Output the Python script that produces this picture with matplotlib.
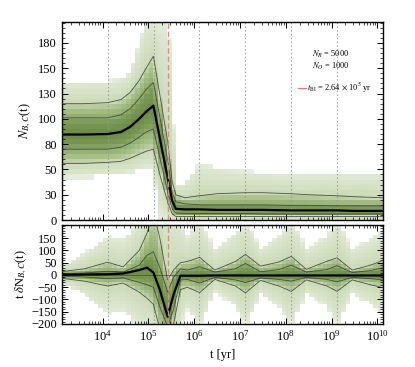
import numpy as np
import matplotlib
matplotlib.use("Agg")
import matplotlib.pyplot as plt
from matplotlib.colors import LinearSegmentedColormap
from matplotlib.ticker import FixedLocator, FixedFormatter, MultipleLocator, LogLocator, NullFormatter

plt.rcParams['font.family'] = ['Liberation Serif', 'DejaVu Serif']
plt.rcParams['mathtext.fontset'] = 'stix'

# ---- data ----
T_BI = 2.64e5
T_MARKS = [1.3e4, 1.3e5, 1.3e6, 1.3e7, 1.3e8, 1.3e9]
N_R, N_O = 5000, 1000

# upper panel: N_{B,C}(t) quantiles vs log10 t
logt_up = [3.11, 3.6, 4.11, 4.4, 4.6, 4.8, 4.95, 5.11, 5.25, 5.42, 5.52, 5.6,
           5.8, 6.11, 6.5, 7.11, 7.5, 8.11, 8.5, 9.11, 9.5, 10.13]
lo_up = [42, 42, 43, 44, 46, 48, 50, 50, 0, 0, 0, 0,
         0, 0, 0, 0, 0, 0, 0, 0, 0, 0]
q02_up = [56, 56, 57, 58, 61, 65, 68, 70, 45, 18, 6, 3.5,
          3.5, 3.5, 3.5, 3.5, 3.5, 3.5, 3.5, 3.5, 3.5, 3.5]
q16_up = [70, 70, 70, 72, 76, 82, 87, 90, 62, 28, 11, 7,
          6.5, 6.5, 6.5, 6.5, 6, 6, 6, 6, 6, 6]
med_up = [84.5, 84.5, 85, 87, 92, 100, 107, 113, 81, 42, 19, 11,
          10.5, 10.5, 10, 10, 10, 9.5, 9.5, 9.5, 9, 9]
q84_up = [101, 101, 101, 104, 110, 120, 129, 136, 102, 60, 27, 18,
          16, 15, 15, 15, 15, 14.5, 14.5, 14, 14, 14]
q98_up = [115, 115, 116, 119, 126, 138, 150, 162, 124, 78, 38, 25,
          22, 24, 26, 27, 27, 26, 25, 24, 23, 22]
hi_up = [137, 137, 137, 140, 146, 175, 200, 200, 200, 200, 150, 36,
         36, 56, 52, 48, 47, 46, 46, 46, 46, 46]

# lower panel: t dN_{B,C}/dt quantiles vs log10 t
logt_lo = [3.11, 3.6, 4.11, 4.45, 4.8, 4.97, 5.11, 5.25, 5.42, 5.55, 5.7, 5.85,
           6.12, 6.45, 6.9, 7.12, 7.45, 7.85, 8.12, 8.45, 8.9, 9.12, 9.45, 9.85, 10.13]
lo_lo = [-35, -80, -160, -150, -220, -240, -260, -300, -320, -300, -220, -140,
         -210, -70, -130, -210, -80, -130, -210, -80, -130, -210, -80, -120, -170]
q02_lo = [-14, -25, -45, -33, -70, -95, -120, -220, -260, -200, -60, -50,
          -72, -18, -45, -73, -22, -45, -67, -20, -45, -67, -20, -40, -52]
q16_lo = [-5, -8, -15, -12, -30, -40, -50, -130, -210, -140, -20, -18,
          -33, -10, -20, -31, -12, -18, -25, -10, -18, -28, -10, -15, -20]
med_lo = [1, 2, 3, 6, 20, 30, 10, -60, -170, -80, -3, -3,
          -3, -2, -2, -2, -2, -2, -2, -2, -2, -2, -2, -2, -2]
q84_lo = [5, 8, 15, 12, 40, 80, 95, 30, -70, -10, 25, 20,
          34, 12, 25, 47, 13, 22, 40, 12, 22, 38, 10, 18, 30]
q98_lo = [14, 25, 52, 33, 100, 170, 260, 150, -20, 20, 50, 55,
          72, 20, 55, 84, 36, 53, 76, 23, 56, 70, 20, 40, 60]
hi_lo = [35, 90, 160, 150, 220, 240, 300, 320, 300, 280, 220, 160,
         230, 110, 170, 230, 110, 160, 230, 110, 160, 230, 110, 150, 190]

# y ticks of the upper panel (labels are rounded in the original)
up_tick_pos = [0, 25, 50, 75, 100, 125, 150, 175]
up_tick_lab = ['0', '30', '50', '80', '100', '130', '150', '180']
lo_tick_pos = [-200, -150, -100, -50, 0, 50, 100, 150]

LEVELS = [0, 0.025, 0.16, 0.5, 0.84, 0.975, 1.0]
cmap = LinearSegmentedColormap.from_list(
    'grn', ['#edf2e6', '#d3e0c2', '#a6bf86', '#7d9c58', '#6a8a45'])


def density_mesh(ax, logt, curves, y_edges, dx=0.1):
    """Shade each time column by how central a cell is in the distribution
    spanned by the read-off quantile curves (two-sided tail probability)."""
    x_edges = np.arange(3.11, 10.14 + dx, dx)
    xc = 0.5 * (x_edges[:-1] + x_edges[1:])
    yc = 0.5 * (y_edges[:-1] + y_edges[1:])
    img = np.full((len(yc), len(xc)), np.nan)
    for j, c in enumerate(xc):
        q = np.array([np.interp(c, logt, cv) for cv in curves])
        q = np.maximum.accumulate(q + np.arange(len(q)) * 1e-6)
        cdf = np.interp(yc, q, LEVELS)
        tail = 1 - np.abs(2 * cdf - 1)
        inside = (yc >= q[0]) & (yc <= q[-1])
        img[:, j] = np.where(inside, tail ** 0.4, np.nan)
    ax.pcolormesh(10 ** x_edges, y_edges, np.ma.masked_invalid(img), cmap=cmap,
                  vmin=0, vmax=1, shading='flat', zorder=1)


def draw_lines(ax, logt, q02, q16, med, q84, q98):
    t = 10 ** np.array(logt)
    for q in (q02, q16, q84, q98):
        ax.plot(t, q, color='#3a3a3a', lw=0.6, alpha=0.85, zorder=3)
    ax.plot(t, med, color='k', lw=1.6, zorder=4)


def style_axis(ax):
    ax.set_xscale('log')
    ax.set_xlim(1.3e3, 1.33e10)
    ax.xaxis.set_major_locator(LogLocator(base=10, numticks=20))
    ax.xaxis.set_minor_locator(LogLocator(base=10, subs=np.arange(2, 10), numticks=100))
    ax.xaxis.set_minor_formatter(NullFormatter())
    ax.tick_params(which='both', direction='in', top=True, right=True, labelsize=9)
    ax.tick_params(which='major', length=4, width=0.7)
    ax.tick_params(which='minor', length=2, width=0.5)
    for s in ax.spines.values():
        s.set_linewidth(1.0)
    for tm in T_MARKS:
        ax.axvline(tm, color='#999999', ls=(0, (1.2, 2.2)), lw=0.8, zorder=2)
    ax.axvline(T_BI, color='#e88a78', ls=(0, (4, 2)), lw=1.0, zorder=5)


fig = plt.figure(figsize=(4.15, 3.67), dpi=100)
ax1 = fig.add_axes([0.1494, 0.4005, 0.7735, 0.5403])
ax2 = fig.add_axes([0.1494, 0.1172, 0.7735, 0.2698])

# upper panel
density_mesh(ax1, logt_up, [lo_up, q02_up, q16_up, med_up, q84_up, q98_up, hi_up],
             np.arange(0, 201, 5))
draw_lines(ax1, logt_up, q02_up, q16_up, med_up, q84_up, q98_up)
style_axis(ax1)
ax1.set_ylim(0, 196)
ax1.yaxis.set_major_locator(FixedLocator(up_tick_pos))
ax1.yaxis.set_major_formatter(FixedFormatter(up_tick_lab))
ax1.yaxis.set_minor_locator(MultipleLocator(5))
ax1.set_xticklabels([])
ax1.set_ylabel(r'$N_{B,C}$(t)', fontsize=9, labelpad=4)

ax1.text(0.779, 0.837, r'$N_R$ = %d' % N_R, transform=ax1.transAxes, fontsize=6,
         va='center')
ax1.text(0.779, 0.777, r'$N_O$ = %d' % N_O, transform=ax1.transAxes, fontsize=6,
         va='center')
ax1.plot([0.735, 0.760], [0.666, 0.666], transform=ax1.transAxes, color='#f07070', lw=0.9)
ax1.text(0.764, 0.666, r'$t_{\rm BI}$ = 2.64 $\times$ 10$^5$ yr', transform=ax1.transAxes,
         fontsize=6, va='center')

# lower panel
density_mesh(ax2, logt_lo, [lo_lo, q02_lo, q16_lo, med_lo, q84_lo, q98_lo, hi_lo],
             np.arange(-210, 226, 15))
ax2.axhline(0, color='#444444', lw=0.5, zorder=2)
draw_lines(ax2, logt_lo, q02_lo, q16_lo, med_lo, q84_lo, q98_lo)
style_axis(ax2)
ax2.set_ylim(-200, 204)
ax2.yaxis.set_major_locator(FixedLocator(lo_tick_pos))
ax2.yaxis.set_minor_locator(MultipleLocator(10))
ax2.set_ylabel(r't $\delta$N$_{B,C}$(t)', fontsize=9, labelpad=2)
ax2.set_xlabel('t [yr]', fontsize=9, labelpad=4)

fig.savefig('out.png', dpi=100)
